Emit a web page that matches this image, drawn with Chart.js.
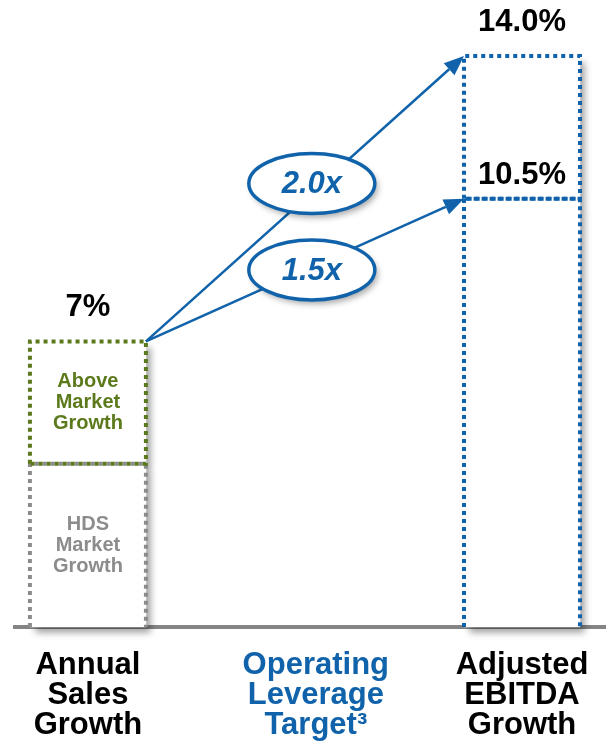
<!DOCTYPE html>
<html>
<head>
<meta charset="utf-8">
<script src="https://cdn.jsdelivr.net/npm/chart.js@4.4.1/dist/chart.umd.min.js"></script>
<style>
  html, body { margin: 0; padding: 0; background: #fff; }
  #wrap { width: 606px; height: 747px; }
</style>
</head>
<body>
<div id="wrap"><canvas id="chart"></canvas></div>
<script>
// chart values
const categories = [['Annual', 'Sales', 'Growth'], ['Operating', 'Leverage', 'Target³'], ['Adjusted', 'EBITDA', 'Growth']];
const baseSegment = [4, null, 10.5];
const topSegment = [3, null, 3.5];
const baseText = [['HDS', 'Market', 'Growth'], null, null];
const topText = [['Above', 'Market', 'Growth'], null, null];
const totalText = ['7%', null, '14.0%'];
const midText = [null, null, '10.5%'];
const leverageText = ['2.0x', '1.5x'];
const leverageTargets = [14.0, 10.5];

const BLUE = '#1063AA';
const GREEN = '#5C7A1C';
const GREY = '#8C8C8C';
const FONT = '"Liberation Sans", Arial, sans-serif';
// the middle caption sits a little right of its slot in the original
const MID_SLOT = 1.05;

function dottedBox(ctx, l, t, r, b, color, withBottom) {
    ctx.save();
    ctx.strokeStyle = color;
    ctx.lineWidth = 4;
    ctx.setLineDash([4, 4]);
    ctx.beginPath();
    ctx.moveTo(l, b);
    ctx.lineTo(l, t);
    ctx.lineTo(r, t);
    ctx.lineTo(r, b);
    if (withBottom) ctx.lineTo(l, b);
    ctx.stroke();
    ctx.restore();
}

function arrow(ctx, x0, y0, x1, y1) {
    const ang = Math.atan2(y1 - y0, x1 - x0);
    const head = 20, half = 8;
    const bx = x1 - head * Math.cos(ang), by = y1 - head * Math.sin(ang);
    ctx.save();
    ctx.strokeStyle = BLUE;
    ctx.fillStyle = BLUE;
    ctx.lineWidth = 2.5;
    ctx.beginPath();
    ctx.moveTo(x0, y0);
    ctx.lineTo(bx, by);
    ctx.stroke();
    ctx.beginPath();
    ctx.moveTo(x1, y1);
    ctx.lineTo(bx + half * Math.sin(ang), by - half * Math.cos(ang));
    ctx.lineTo(bx - half * Math.sin(ang), by + half * Math.cos(ang));
    ctx.closePath();
    ctx.fill();
    ctx.restore();
}

function textLines(ctx, lines, x, cy, lh) {
    const start = cy - (lines.length - 1) * lh / 2;
    lines.forEach((s, k) => ctx.fillText(s, x, start + k * lh));
}

const sketch = {
    id: 'sketch',
    beforeDatasetsDraw(chart) {
        const ctx = chart.ctx;
        ctx.save();
        ctx.shadowColor = 'rgba(0,0,0,0.38)';
        ctx.shadowBlur = 7;
        ctx.shadowOffsetX = 5;
        ctx.shadowOffsetY = 6;
    },
    afterDatasetsDraw(chart) {
        const ctx = chart.ctx;
        ctx.restore();
        const xs = chart.scales.x, ys = chart.scales.y;
        const boxes = [];

        // dotted outlines + segment texts
        chart.data.datasets.forEach((ds, d) => {
            const meta = chart.getDatasetMeta(d);
            meta.data.forEach((el, i) => {
                if (ds.data[i].y == null) return;
                const p = el.getProps(['x', 'y', 'base', 'width'], true);
                const l = p.x - p.width / 2, r = p.x + p.width / 2;
                const t = Math.min(p.y, p.base), b = Math.max(p.y, p.base);
                boxes[i] = { l, r, x: p.x };
                dottedBox(ctx, l, t, r, b, ds.dotColor[i], d > 0);
                const txt = ds.segText[i];
                if (txt) {
                    ctx.save();
                    ctx.fillStyle = ds.textColor;
                    ctx.font = 'bold 20px ' + FONT;
                    ctx.textAlign = 'center';
                    ctx.textBaseline = 'middle';
                    textLines(ctx, txt, p.x, (t + b) / 2, 21);
                    ctx.restore();
                }
            });
        });

        // value labels
        ctx.save();
        ctx.fillStyle = '#000';
        ctx.font = 'bold 31px ' + FONT;
        ctx.textAlign = 'center';
        ctx.textBaseline = 'alphabetic';
        totalText.forEach((s, i) => {
            if (!s) return;
            const total = baseSegment[i] + topSegment[i];
            ctx.fillText(s, xs.getPixelForValue(i), ys.getPixelForValue(total) - 25);
        });
        midText.forEach((s, i) => {
            if (!s) return;
            ctx.fillText(s, xs.getPixelForValue(i), ys.getPixelForValue(baseSegment[i]) - 15);
        });
        ctx.restore();

        // arrows from first bar to last bar
        const x0 = boxes[0].r, y0 = ys.getPixelForValue(baseSegment[0] + topSegment[0]);
        const x1 = boxes[2].l;
        const lines = leverageTargets.map(v => {
            const y1 = ys.getPixelForValue(v);
            arrow(ctx, x0, y0, x1, y1);
            return { y1 };
        });

        // leverage ellipses
        const cx = xs.getPixelForValue(MID_SLOT) - 4;
        const nudge = [-9, 3];
        lines.forEach((ln, k) => {
            const cy = y0 + (ln.y1 - y0) * (cx - x0) / (x1 - x0) + nudge[k];
            ctx.save();
            ctx.shadowColor = 'rgba(0,0,0,0.35)';
            ctx.shadowBlur = 6;
            ctx.shadowOffsetX = 3;
            ctx.shadowOffsetY = 4;
            ctx.beginPath();
            ctx.ellipse(cx, cy, 63, 30, 0, 0, Math.PI * 2);
            ctx.fillStyle = '#fff';
            ctx.fill();
            ctx.shadowColor = 'transparent';
            ctx.lineWidth = 3.5;
            ctx.strokeStyle = BLUE;
            ctx.stroke();
            ctx.fillStyle = BLUE;
            ctx.font = 'italic bold 31px ' + FONT;
            ctx.textAlign = 'center';
            ctx.textBaseline = 'middle';
            ctx.fillText(leverageText[k], cx, cy + 1);
            ctx.restore();
        });
    }
};

new Chart(document.getElementById('chart'), {
    type: 'bar',
    data: {
        datasets: [
            {
                label: 'Base',
                data: baseSegment.map((v, i) => ({ x: i, y: v })),
                backgroundColor: '#fff',
                borderWidth: 0,
                barThickness: 116,
                clip: false,
                dotColor: [GREY, null, BLUE],
                segText: baseText,
                textColor: GREY
            },
            {
                label: 'Top',
                data: topSegment.map((v, i) => ({ x: i, y: v })),
                backgroundColor: '#fff',
                borderWidth: 0,
                barThickness: 116,
                clip: false,
                dotColor: [GREEN, null, BLUE],
                segText: topText,
                textColor: GREEN
            }
        ]
    },
    options: {
        responsive: true,
        maintainAspectRatio: false,
        animation: false,
        layout: { padding: { left: 15, top: 0, right: 0, bottom: 0 } },
        plugins: {
            legend: { display: false },
            tooltip: { enabled: false }
        },
        scales: {
            x: {
                type: 'linear',
                stacked: true,
                offset: false,
                min: -0.336,
                max: 2.387,
                grid: { display: false, drawTicks: false, offset: false },
                border: { display: true, color: '#848484', width: 4 },
                afterBuildTicks: axis => {
                    axis.ticks = categories.map((c, i) => ({ value: i === 1 ? MID_SLOT : i }));
                },
                afterFit: axis => {
                    axis.height = 120;
                    axis.paddingLeft = 0;
                    axis.paddingRight = 0;
                },
                ticks: {
                    autoSkip: false,
                    maxRotation: 0,
                    padding: 23,
                    font: { family: FONT, size: 31, weight: 'bold', lineHeight: 0.97 },
                    color: c => c.index === 1 ? BLUE : '#000',
                    callback: (v, i) => categories[i]
                }
            },
            y: {
                display: false,
                stacked: true,
                min: 0,
                max: 15.37
            }
        }
    },
    plugins: [sketch]
});
</script>
</body>
</html>
